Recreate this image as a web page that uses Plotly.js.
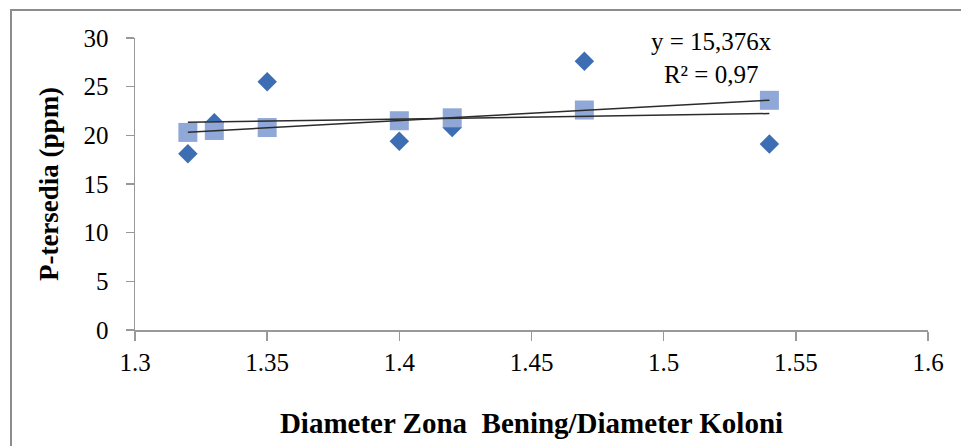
<!DOCTYPE html>
<html>
<head>
<meta charset="utf-8">
<script src="https://cdn.plot.ly/plotly-3.0.1.min.js"></script>
<style>
  html, body { margin: 0; padding: 0; background: #fff; }
  #wrap { position: relative; width: 961px; height: 446px; overflow: hidden; }
  #chart { position: absolute; left: 0; top: 0; width: 961px; height: 446px; }
  #frame { position: absolute; left: 10px; top: 9px; width: 1000px; height: 500px;
           border-top: 2px solid #8c8c8c; border-left: 2px solid #8c8c8c; pointer-events: none; }
</style>
</head>
<body>
<div id="wrap">
  <div id="chart"></div>
  <div id="frame"></div>
</div>
<script>
// Data
const ratioX = [1.32, 1.33, 1.35, 1.40, 1.42, 1.47, 1.54];
const pObserved = [18.1, 21.3, 25.5, 19.4, 20.8, 27.6, 19.1];
const pPredicted = [20.3, 20.5, 20.8, 21.5, 21.8, 22.6, 23.6];
const xTicks = [1.3, 1.35, 1.4, 1.45, 1.5, 1.55, 1.6];
const yTicks = [0, 5, 10, 15, 20, 25, 30];
const equationText = 'y = 15,376x<br>R² = 0,97';

function linFit(xs, ys) {
  const n = xs.length;
  const mx = xs.reduce((a, b) => a + b, 0) / n;
  const my = ys.reduce((a, b) => a + b, 0) / n;
  let sxy = 0, sxx = 0;
  for (let i = 0; i < n; i++) { sxy += (xs[i] - mx) * (ys[i] - my); sxx += (xs[i] - mx) ** 2; }
  const b = sxy / sxx, a = my - b * mx;
  const x0 = Math.min(...xs), x1 = Math.max(...xs);
  return { x: [x0, x1], y: [a + b * x0, a + b * x1] };
}

const fitObs = linFit(ratioX, pObserved);
const fitPred = linFit(ratioX, pPredicted);

const serif = 'Liberation Serif, Times New Roman, serif';

const traces = [
  { x: ratioX, y: pObserved, type: 'scatter', mode: 'markers',
    marker: { symbol: 'diamond', size: 15, color: '#3D6EB4' }, hoverinfo: 'x+y' },
  { x: ratioX, y: pPredicted, type: 'scatter', mode: 'markers',
    marker: { symbol: 'square', size: 19, color: '#8FA8D8' }, hoverinfo: 'x+y' },
  { x: fitObs.x, y: fitObs.y, type: 'scatter', mode: 'lines',
    line: { color: '#2b2b2b', width: 1.5 }, hoverinfo: 'skip' },
  { x: fitPred.x, y: fitPred.y, type: 'scatter', mode: 'lines',
    line: { color: '#2b2b2b', width: 1.5 }, hoverinfo: 'skip' }
];

const layout = {
  width: 961, height: 446,
  margin: { l: 135, r: 33, t: 38, b: 116 },
  paper_bgcolor: 'rgba(0,0,0,0)', plot_bgcolor: 'rgba(0,0,0,0)',
  showlegend: false,
  font: { family: serif, color: '#000' },
  xaxis: {
    range: [1.3, 1.6], tickvals: xTicks, ticktext: xTicks.map(String),
    showgrid: false, zeroline: false, showline: true, linecolor: '#999', linewidth: 1.5,
    ticks: 'outside', ticklen: 9, tickcolor: '#999', tickwidth: 1.5,
    tickfont: { family: serif, size: 25, color: '#000' }, ticklabelstandoff: 0,
    title: { text: 'Diameter Zona  Bening/Diameter Koloni', standoff: 38,
             font: { family: serif, size: 29, color: '#000', weight: 'bold' } }
  },
  yaxis: {
    range: [0, 30], tickvals: yTicks, ticktext: yTicks.map(String),
    showgrid: false, zeroline: false, showline: true, linecolor: '#999', linewidth: 1.5,
    ticks: 'outside', ticklen: 8, tickcolor: '#999', tickwidth: 1.5,
    tickfont: { family: serif, size: 25, color: '#000' }, ticklabelstandoff: 12,
    title: { text: 'P-tersedia (ppm)', standoff: 17,
             font: { family: serif, size: 27, color: '#000', weight: 'bold' } }
  },
  annotations: [{
    text: equationText, xref: 'x', yref: 'y', x: 1.518, y: 27.9, showarrow: false,
    xanchor: 'center', yanchor: 'middle', align: 'center',
    font: { family: serif, size: 25, color: '#000' }
  }]
};

Plotly.newPlot('chart', traces, layout, { displayModeBar: false, staticPlot: true });
</script>
</body>
</html>
